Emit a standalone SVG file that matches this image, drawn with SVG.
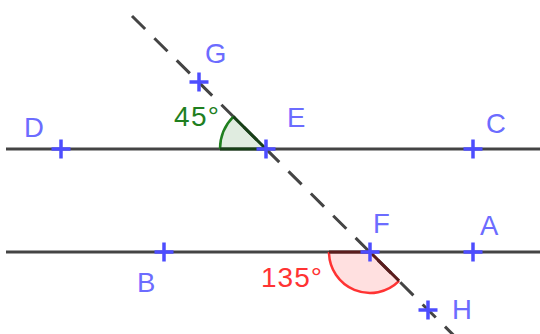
<svg xmlns="http://www.w3.org/2000/svg" width="540" height="334" viewBox="0 0 540 334">
<defs>
<style>
.ln{stroke:#444;stroke-width:3;fill:none}
.dash{stroke:#444;stroke-width:3;fill:none;stroke-dasharray:18.5 13}
.pt{stroke:#4d4dff;stroke-width:3.5;fill:none}
.lbl{font-family:"Liberation Sans",Arial,sans-serif;font-size:27.5px;fill:#6c6cff}
.ang{font-family:"Liberation Sans",Arial,sans-serif;font-size:28px}
</style>
<path id="cross" d="M-9.5,0H9.5M0,-9.5V9.5"/>
</defs>
<rect width="540" height="334" fill="#fff"/>
<g id="connectors">
<line class="ln" x1="6" y1="149" x2="540" y2="149"/>
<line class="ln" x1="6" y1="252" x2="540" y2="252"/>
<line class="dash" x1="132" y1="16" x2="470" y2="351.5"/>
</g>
<g id="angle-E">
<path d="M266,149 L220,149 A46,46 0 0 1 233.4,116.6 Z" fill="#006400" fill-opacity="0.12"/>
<path d="M220,149 A46,46 0 0 1 233.4,116.6" fill="none" stroke="#1f7f1f" stroke-width="2.5"/>
<path d="M220,149 L266,149 L233.4,116.6" fill="none" stroke="#173f17" stroke-width="3"/>
<text class="ang" x="174" y="126" fill="#1f7f1f" textLength="45">45°</text>
</g>
<g id="angle-F">
<path d="M370,252 L399.1,280.9 A41,41 0 0 1 329,252 Z" fill="#ff0000" fill-opacity="0.12"/>
<path d="M399.1,280.9 A41,41 0 0 1 329,252" fill="none" stroke="#ff3333" stroke-width="2.5"/>
<path d="M329,252 L370,252 L399.1,280.9" fill="none" stroke="#5a1c1c" stroke-width="3"/>
<text class="ang" x="261" y="287" fill="#ff3333" textLength="61">135°</text>
</g>
<g id="D"><use href="#cross" class="pt" x="61" y="149"/><text class="lbl" x="24" y="137">D</text></g>
<g id="E"><use href="#cross" class="pt" x="266" y="149"/><text class="lbl" x="287" y="127">E</text></g>
<g id="C"><use href="#cross" class="pt" x="473" y="149"/><text class="lbl" x="486" y="133">C</text></g>
<g id="G"><use href="#cross" class="pt" x="199" y="82"/><text class="lbl" x="205" y="63">G</text></g>
<g id="B"><use href="#cross" class="pt" x="164" y="252"/><text class="lbl" x="137" y="292">B</text></g>
<g id="F"><use href="#cross" class="pt" x="370" y="252"/><text class="lbl" x="373" y="233">F</text></g>
<g id="A"><use href="#cross" class="pt" x="473" y="252"/><text class="lbl" x="480" y="235">A</text></g>
<g id="H"><use href="#cross" class="pt" x="428" y="310"/><text class="lbl" x="452" y="319">H</text></g>
</svg>
